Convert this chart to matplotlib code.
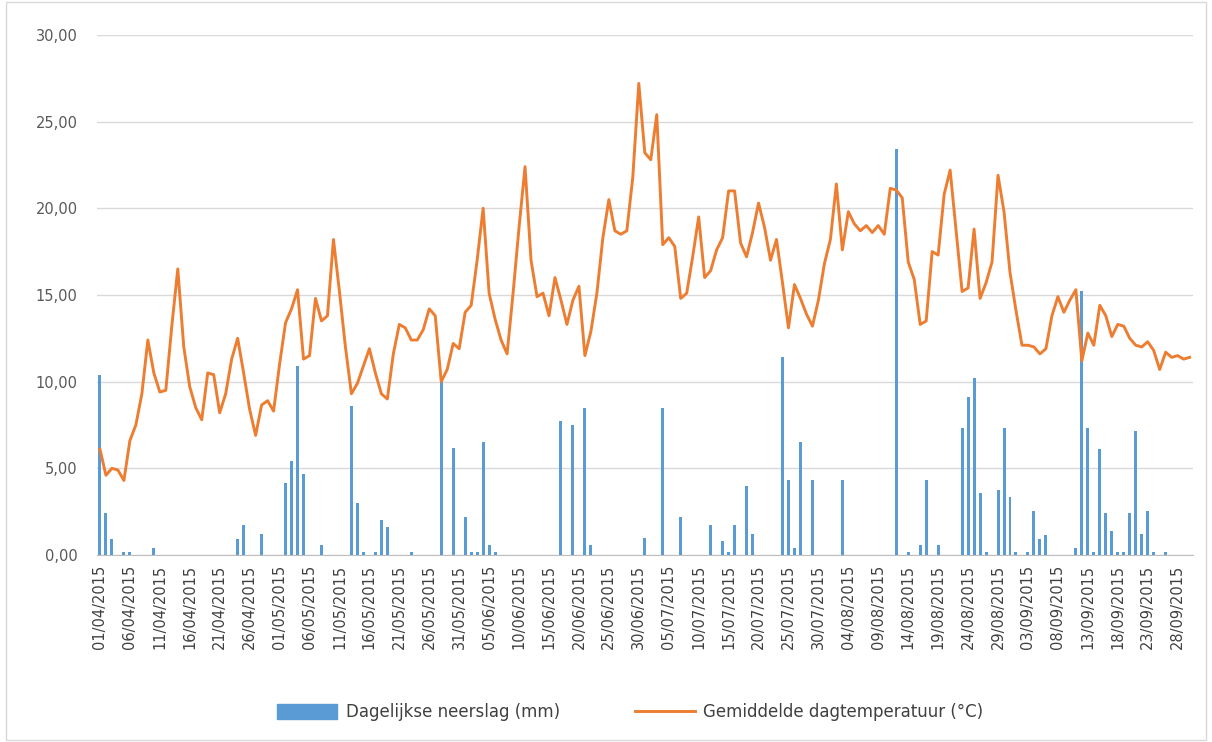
import numpy as np
import pandas as pd
import matplotlib
matplotlib.use("Agg")
import matplotlib.pyplot as plt
from matplotlib.patches import Rectangle, Patch
from matplotlib.lines import Line2D

# daily values 01/04/2015 .. 30/09/2015
dates = pd.date_range("2015-04-01", "2015-09-30", freq="D")

temperature = [
    6.1, 4.6, 5.0, 4.9, 4.3, 6.6, 7.5, 9.3, 12.4, 10.5,
    9.4, 9.5, 13.2, 16.5, 12.0, 9.7, 8.5, 7.8, 10.5, 10.4,
    8.2, 9.3, 11.3, 12.5, 10.5, 8.4, 6.9, 8.65, 8.9, 8.3,
    11.0, 13.4, 14.2, 15.3, 11.3, 11.5, 14.8, 13.5, 13.8, 18.2,
    15.2, 12.0, 9.3, 9.9, 10.9, 11.9, 10.5, 9.3, 9.0, 11.6,
    13.3, 13.1, 12.4, 12.4, 13.0, 14.2, 13.8, 10.0, 10.7, 12.2,
    11.9, 14.0, 14.4, 17.0, 20.0, 15.1, 13.6, 12.4, 11.6, 15.1,
    18.9, 22.4, 17.0, 14.9, 15.1, 13.8, 16.0, 14.7, 13.3, 14.7,
    15.5, 11.5, 12.9, 15.1, 18.3, 20.5, 18.7, 18.5, 18.7, 21.8,
    27.2, 23.2, 22.8, 25.4, 17.9, 18.3, 17.8, 14.8, 15.1, 17.2,
    19.5, 16.0, 16.4, 17.6, 18.3, 21.0, 21.0, 18.0, 17.2, 18.6,
    20.3, 18.9, 17.0, 18.2, 15.7, 13.1, 15.6, 14.8, 13.9, 13.2,
    14.7, 16.8, 18.2, 21.4, 17.6, 19.8, 19.1, 18.7, 19.0, 18.6,
    19.0, 18.5, 21.15, 21.05, 20.6, 16.9, 15.9, 13.3, 13.5, 17.5,
    17.3, 20.8, 22.2, 18.7, 15.2, 15.4, 18.8, 14.8, 15.7, 16.9,
    21.9, 19.8, 16.3, 14.1, 12.1, 12.1, 12.0, 11.6, 11.9, 13.8,
    14.9, 14.0, 14.7, 15.3, 11.2, 12.8, 12.1, 14.4, 13.8, 12.6,
    13.3, 13.2, 12.5, 12.1, 12.0, 12.3, 11.8, 10.7, 11.7, 11.4,
    11.5, 11.3, 11.4,
]

precipitation = [
    10.4, 2.4, 0.95, 0, 0.2, 0.2, 0, 0, 0, 0.4,
    0, 0, 0, 0, 0, 0, 0, 0, 0, 0,
    0, 0, 0, 0.95, 1.75, 0, 0, 1.2, 0, 0,
    0, 4.15, 5.4, 10.9, 4.7, 0, 0, 0.6, 0, 0,
    0, 0, 8.6, 3.0, 0.2, 0, 0.2, 2.0, 1.6, 0,
    0, 0, 0.2, 0, 0, 0, 0, 10.2, 0, 6.2,
    0, 2.2, 0.15, 0.15, 6.5, 0.6, 0.2, 0, 0, 0,
    0, 0, 0, 0, 0, 0, 0, 7.75, 0, 7.5,
    0, 8.5, 0.6, 0, 0, 0, 0, 0, 0, 0,
    0, 1.0, 0, 0, 8.5, 0, 0, 2.2, 0, 0,
    0, 0, 1.75, 0, 0.8, 0.15, 1.75, 0, 4.0, 1.2,
    0, 0, 0, 0, 11.4, 4.3, 0.4, 6.5, 0, 4.3,
    0, 0, 0, 0, 4.3, 0, 0, 0, 0, 0,
    0, 0, 0, 23.4, 0, 0.15, 0, 0.6, 4.35, 0,
    0.6, 0, 0, 0, 7.3, 9.1, 10.2, 3.55, 0.15, 0,
    3.75, 7.3, 3.35, 0.15, 0, 0.15, 2.55, 0.95, 1.15, 0,
    0, 0, 0, 0.4, 15.2, 7.3, 0.2, 6.1, 2.4, 1.4,
    0.15, 0.15, 2.4, 7.15, 1.2, 2.55, 0.15, 0, 0.15, 0,
    0, 0, 0,
]

yticks = [0, 5, 10, 15, 20, 25, 30]

blue = "#5B9BD5"
orange = "#ED7D31"
grey = "#595959"

fig = plt.figure(figsize=(12.12, 7.42), dpi=100)
ax = fig.add_axes([0.080, 0.252, 0.904, 0.701])

x = np.arange(len(dates))
ax.bar(x, precipitation, width=0.5, color=blue, zorder=2)
ax.plot(x, temperature, color=orange, lw=2.1, zorder=3, solid_joinstyle="round")

ax.set_xlim(-0.5, len(dates) - 0.5)
ax.set_ylim(0, 30)
ax.set_yticks(yticks)
ax.set_yticklabels([f"{v:.2f}".replace(".", ",") for v in yticks])
ax.yaxis.grid(True, color="#D9D9D9", lw=1, zorder=0)
ax.set_axisbelow(True)

tick_pos = x[::5]
ax.set_xticks(tick_pos)
ax.set_xticklabels([dates[i].strftime("%d/%m/%Y") for i in tick_pos], rotation=90)

for s in ["top", "right", "left"]:
    ax.spines[s].set_visible(False)
ax.spines["bottom"].set_color("#BFBFBF")
ax.tick_params(axis="both", length=0, labelsize=10.5, colors=grey)
ax.tick_params(axis="x", pad=7, labelcolor="#404040")
ax.tick_params(axis="y", pad=14)

handles = [Patch(facecolor=blue, edgecolor=blue),
           Line2D([0], [0], color=orange, lw=2.1)]
fig.legend(handles, ["Dagelijkse neerslag (mm)", "Gemiddelde dagtemperatuur (°C)"],
           loc="center", bbox_to_anchor=(0.52, 0.04), ncol=2, frameon=False,
           fontsize=12, handlelength=3.6, handleheight=1.0, handletextpad=0.5,
           columnspacing=4.5, labelcolor="#404040")

fig.patches.append(Rectangle((0.005, 0.003), 0.99, 0.994, transform=fig.transFigure,
                             fill=False, edgecolor="#D9D9D9", lw=1))

fig.savefig("out.png", dpi=100)
